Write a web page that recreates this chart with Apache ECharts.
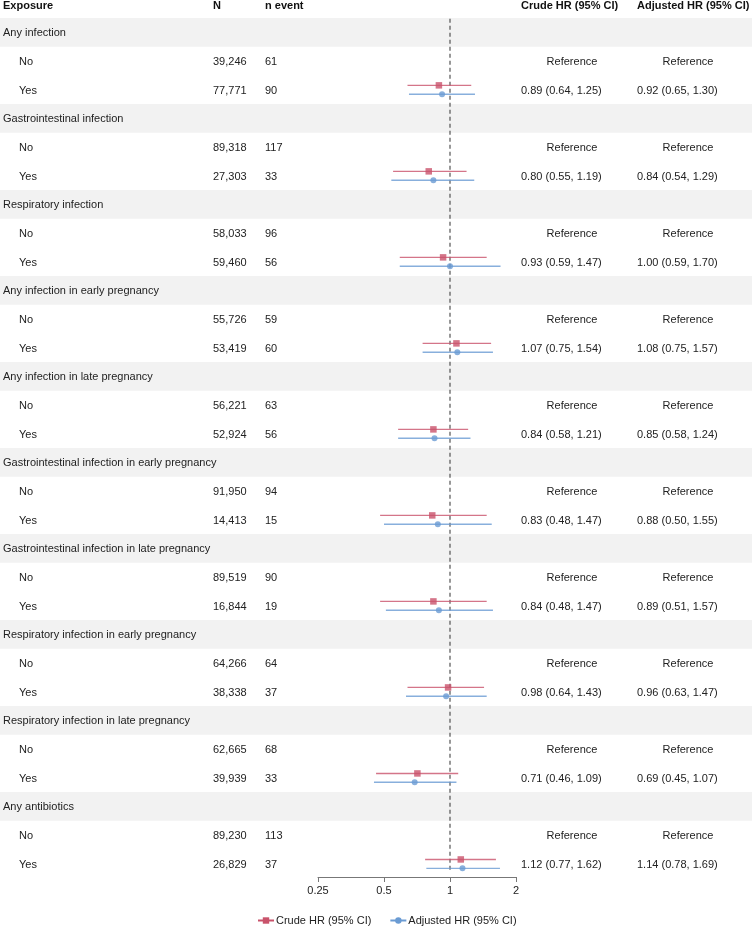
<!DOCTYPE html>
<html>
<head>
<meta charset="utf-8">
<script src="https://cdn.jsdelivr.net/npm/echarts@6/dist/echarts.min.js"></script>
<style>
  html, body { margin: 0; padding: 0; background: #fff; }
  #chart { width: 752px; height: 929px; }
</style>
</head>
<body>
<div id="chart"></div>
<script>
// exposures (one block each: group row, "No" row, "Yes" row)
const groups = [
  'Any infection',
  'Gastrointestinal infection',
  'Respiratory infection',
  'Any infection in early pregnancy',
  'Any infection in late pregnancy',
  'Gastrointestinal infection in early pregnancy',
  'Gastrointestinal infection in late pregnancy',
  'Respiratory infection in early pregnancy',
  'Respiratory infection in late pregnancy',
  'Any antibiotics'
];
const nNo = ['39,246', '89,318', '58,033', '55,726', '56,221', '91,950', '89,519', '64,266', '62,665', '89,230'];
const eventsNo = [61, 117, 96, 59, 63, 94, 90, 64, 68, 113];
const nYes = ['77,771', '27,303', '59,460', '53,419', '52,924', '14,413', '16,844', '38,338', '39,939', '26,829'];
const eventsYes = [90, 33, 56, 60, 56, 15, 19, 37, 33, 37];

const crudeHR = [0.89, 0.80, 0.93, 1.07, 0.84, 0.83, 0.84, 0.98, 0.71, 1.12];
const crudeLo = [0.64, 0.55, 0.59, 0.75, 0.58, 0.48, 0.48, 0.64, 0.46, 0.77];
const crudeHi = [1.25, 1.19, 1.47, 1.54, 1.21, 1.47, 1.47, 1.43, 1.09, 1.62];
const adjHR = [0.92, 0.84, 1.00, 1.08, 0.85, 0.88, 0.89, 0.96, 0.69, 1.14];
const adjLo = [0.65, 0.54, 0.59, 0.75, 0.58, 0.50, 0.51, 0.63, 0.45, 0.78];
const adjHi = [1.30, 1.29, 1.70, 1.57, 1.24, 1.55, 1.57, 1.47, 1.07, 1.69];

const xTicks = [0.25, 0.5, 1, 2];
const headers = ['Exposure', 'N', 'n event', 'Crude HR (95% CI)', 'Adjusted HR (95% CI)'];

const RED = '#c9536b';
const BLUE = '#6a9bd3';
const FONT = '"Liberation Sans", Arial, sans-serif';
const ROW_H = 28.67;
const Y_MIN = -4.5 / ROW_H, Y_MAX = (877 - 4.5) / ROW_H;
const HEAD_ROW = 0.06;
const OFF_C = -0.18, OFF_A = 0.13; // vertical shift of crude / adjusted marks within a row

const fmt = (v) => v.toFixed(2);
const ci = (h, l, u) => fmt(h) + ' (' + fmt(l) + ', ' + fmt(u) + ')';

// column positions in the full-width text grid (pixels)
const COL = { exp: 3, sub: 19, n: 213, ev: 265, crude: 521, crudeRef: 572, adj: 637, adjRef: 688 };

// text items
const texts = [];
const addText = (x, row, t, align, bold) => texts.push({ x, row, t, align, bold });
addText(COL.exp, HEAD_ROW, headers[0], 'left', true);
addText(COL.n, HEAD_ROW, headers[1], 'left', true);
addText(COL.ev, HEAD_ROW, headers[2], 'left', true);
addText(COL.crude, HEAD_ROW, headers[3], 'left', true);
addText(COL.adj, HEAD_ROW, headers[4], 'left', true);

const groupRows = [];
groups.forEach((g, i) => {
  const r = 1 + i * 3;
  groupRows.push(r);
  addText(COL.exp, r, g, 'left', false);
  addText(COL.sub, r + 1, 'No', 'left', false);
  addText(COL.n, r + 1, nNo[i], 'left', false);
  addText(COL.ev, r + 1, String(eventsNo[i]), 'left', false);
  addText(COL.crudeRef, r + 1, 'Reference', 'center', false);
  addText(COL.adjRef, r + 1, 'Reference', 'center', false);
  addText(COL.sub, r + 2, 'Yes', 'left', false);
  addText(COL.n, r + 2, nYes[i], 'left', false);
  addText(COL.ev, r + 2, String(eventsYes[i]), 'left', false);
  addText(COL.crude, r + 2, ci(crudeHR[i], crudeLo[i], crudeHi[i]), 'left', false);
  addText(COL.adj, r + 2, ci(adjHR[i], adjLo[i], adjHi[i]), 'left', false);
});

const crudeBars = groups.map((g, i) => [crudeLo[i], crudeHi[i], 3 + i * 3 + OFF_C]);
const adjBars = groups.map((g, i) => [adjLo[i], adjHi[i], 3 + i * 3 + OFF_A]);
const crudePts = groups.map((g, i) => [crudeHR[i], 3 + i * 3 + OFF_C]);
const adjPts = groups.map((g, i) => [adjHR[i], 3 + i * 3 + OFF_A]);

const barSeries = (name, data, color) => ({
  name: name,
  type: 'custom',
  xAxisIndex: 1,
  yAxisIndex: 1,
  data: data,
  z: 3,
  renderItem: (params, api) => {
    const a = api.coord([api.value(0), api.value(2)]);
    const b = api.coord([api.value(1), api.value(2)]);
    return {
      type: 'line',
      shape: { x1: a[0], y1: a[1], x2: b[0], y2: b[1] },
      style: { stroke: color, lineWidth: 1.4, opacity: 0.8 }
    };
  }
});

const chart = echarts.init(document.getElementById('chart'));
chart.setOption({
  animation: false,
  grid: [
    { left: 0, right: 0, top: 0, bottom: 52 },
    { left: 318, right: 236, top: 0, bottom: 52 }
  ],
  xAxis: [
    { gridIndex: 0, type: 'value', min: 0, max: 752, show: false },
    {
      gridIndex: 1, type: 'log', logBase: 2, min: 0.25, max: 2, position: 'bottom',
      axisLine: { show: true, onZero: false, lineStyle: { color: '#777', width: 1 } },
      axisTick: { show: true, length: 5, lineStyle: { color: '#777' } },
      splitLine: { show: false },
      axisLabel: {
        color: '#222', fontSize: 11, fontFamily: FONT, margin: 8,
        formatter: (v) => {
          const t = xTicks.find((k) => Math.abs(k - v) < 1e-6);
          return t === undefined ? '' : String(t);
        }
      }
    }
  ],
  yAxis: [
    { gridIndex: 0, type: 'value', min: Y_MIN, max: Y_MAX, inverse: true, show: false },
    { gridIndex: 1, type: 'value', min: Y_MIN, max: Y_MAX, inverse: true, show: false }
  ],
  legend: {
    top: 910,
    left: 252,
    itemWidth: 16,
    itemHeight: 8,
    itemGap: 18,
    data: ['Crude HR (95% CI)', 'Adjusted HR (95% CI)'],
    textStyle: { color: '#222', fontSize: 11, fontFamily: FONT, padding: [0, 0, 0, -3] }
  },
  series: [
    {
      name: 'bands',
      type: 'custom',
      xAxisIndex: 0,
      yAxisIndex: 0,
      data: groupRows.map((r) => [r]),
      z: 0,
      silent: true,
      renderItem: (params, api) => {
        const top = api.coord([0, api.value(0) - 0.53]);
        const bot = api.coord([752, api.value(0) + 0.47]);
        return {
          type: 'rect',
          shape: { x: top[0], y: top[1], width: bot[0] - top[0], height: bot[1] - top[1] },
          style: { fill: '#f2f2f2' }
        };
      }
    },
    {
      name: 'texts',
      type: 'custom',
      xAxisIndex: 0,
      yAxisIndex: 0,
      data: texts.map((d) => [d.x, d.row]),
      z: 2,
      silent: true,
      renderItem: (params, api) => {
        const d = texts[params.dataIndex];
        const p = api.coord([api.value(0), api.value(1)]);
        return {
          type: 'text',
          x: p[0],
          y: p[1],
          style: {
            text: d.t,
            textAlign: d.align,
            textVerticalAlign: 'middle',
            fontSize: 11,
            fontFamily: FONT,
            fontWeight: d.bold ? 'bold' : 'normal',
            fill: d.bold ? '#111' : '#222'
          }
        };
      }
    },
    {
      name: 'refline',
      type: 'custom',
      xAxisIndex: 1,
      yAxisIndex: 1,
      data: [[1, 0.5, Y_MAX - 0.2]],
      z: 2,
      silent: true,
      renderItem: (params, api) => {
        const a = api.coord([api.value(0), api.value(1)]);
        const b = api.coord([api.value(0), api.value(2)]);
        return {
          type: 'line',
          shape: { x1: a[0], y1: a[1], x2: b[0], y2: b[1] },
          style: { stroke: '#444', lineWidth: 1.1, lineDash: [4, 3] }
        };
      }
    },
    barSeries('crudeBars', crudeBars, RED),
    barSeries('adjBars', adjBars, BLUE),
    {
      name: 'crudePts', type: 'scatter', xAxisIndex: 1, yAxisIndex: 1,
      data: crudePts, symbol: 'rect', symbolSize: 6.5, z: 4,
      itemStyle: { color: RED }
    },
    {
      name: 'adjPts', type: 'scatter', xAxisIndex: 1, yAxisIndex: 1,
      data: adjPts, symbol: 'circle', symbolSize: 6, z: 4,
      itemStyle: { color: BLUE }
    },
    {
      name: 'Crude HR (95% CI)', type: 'line', xAxisIndex: 1, yAxisIndex: 1,
      data: [], symbol: 'rect', symbolSize: 8,
      itemStyle: { color: RED }, lineStyle: { color: RED, width: 1.5 }
    },
    {
      name: 'Adjusted HR (95% CI)', type: 'line', xAxisIndex: 1, yAxisIndex: 1,
      data: [], symbol: 'circle', symbolSize: 8,
      itemStyle: { color: BLUE }, lineStyle: { color: BLUE, width: 1.5 }
    }
  ]
});
</script>
</body>
</html>
